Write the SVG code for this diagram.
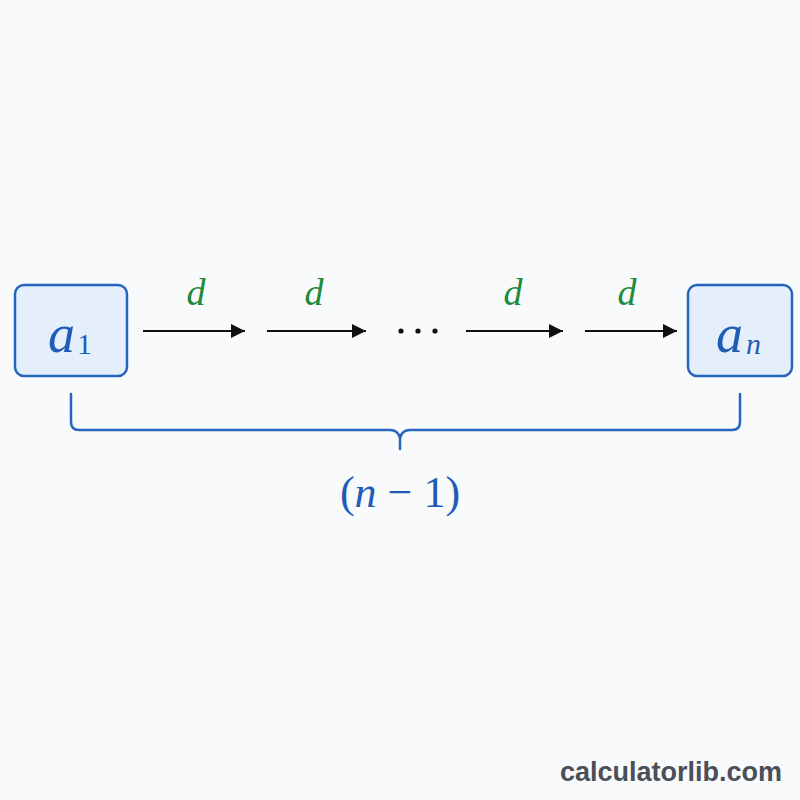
<svg xmlns="http://www.w3.org/2000/svg" width="800" height="800" viewBox="0 0 800 800">
<defs>
<style>
.box{fill:#e4effb;stroke:#2565bd;stroke-width:2.5}
.math{font-family:"Liberation Serif","DejaVu Serif",serif;font-style:italic;fill:#1f5cb8}
.d{font-family:"Liberation Serif","DejaVu Serif",serif;font-style:italic;fill:#1e8b3c;font-size:38px;text-anchor:middle}
.arr{stroke:#111;stroke-width:2.2;fill:none;marker-end:url(#ah)}
.brace{stroke:#2565bd;stroke-width:2.5;fill:none;stroke-linecap:round;stroke-linejoin:round}
</style>
<marker id="ah" viewBox="0 0 10 10" refX="10" refY="5" markerWidth="6.5" markerHeight="6.5" markerUnits="strokeWidth" orient="auto">
<path d="M0,0 L10,5 L0,10 z" fill="#111"/>
</marker>
</defs>
<rect width="800" height="800" fill="#f9fafb"/>
<g id="node-a1">
<rect class="box" x="15" y="285" width="112" height="91" rx="9"/>
<text class="math" x="48" y="352" font-size="54">a</text>
<text x="77" y="354" font-family="Liberation Serif, serif" font-size="30" fill="#1f5cb8">1</text>
</g>
<g id="node-an">
<rect class="box" x="688" y="285" width="104" height="91" rx="9"/>
<text class="math" x="716" y="352" font-size="54">a</text>
<text class="math" x="746" y="354" font-size="30">n</text>
</g>
<g id="connectors">
<line class="arr" x1="143" y1="331" x2="245" y2="331"/>
<line class="arr" x1="267" y1="331" x2="366" y2="331"/>
<line class="arr" x1="466" y1="331" x2="563" y2="331"/>
<line class="arr" x1="585" y1="331" x2="677" y2="331"/>
<text class="d" x="196" y="305">d</text>
<text class="d" x="314" y="305">d</text>
<text class="d" x="513" y="305">d</text>
<text class="d" x="627" y="305">d</text>
<circle cx="401" cy="331" r="2.6" fill="#111"/>
<circle cx="418" cy="331" r="2.6" fill="#111"/>
<circle cx="435" cy="331" r="2.6" fill="#111"/>
</g>
<g id="brace">
<path class="brace" d="M71,394 V422 Q71,430 79,430 H390 Q398,430 400,438 Q402,430 410,430 H732 Q740,430 740,422 V394"/>
<line class="brace" x1="400" y1="438" x2="400" y2="449"/>
<text x="400" y="507" font-family="Liberation Serif, serif" font-size="44" fill="#1f5cb8" text-anchor="middle">(<tspan font-style="italic">n</tspan> − 1)</text>
</g>
<text x="782" y="781" font-family="Liberation Sans, Arial, sans-serif" font-weight="bold" font-size="27" fill="#4a4f58" text-anchor="end">calculatorlib.com</text>
</svg>
